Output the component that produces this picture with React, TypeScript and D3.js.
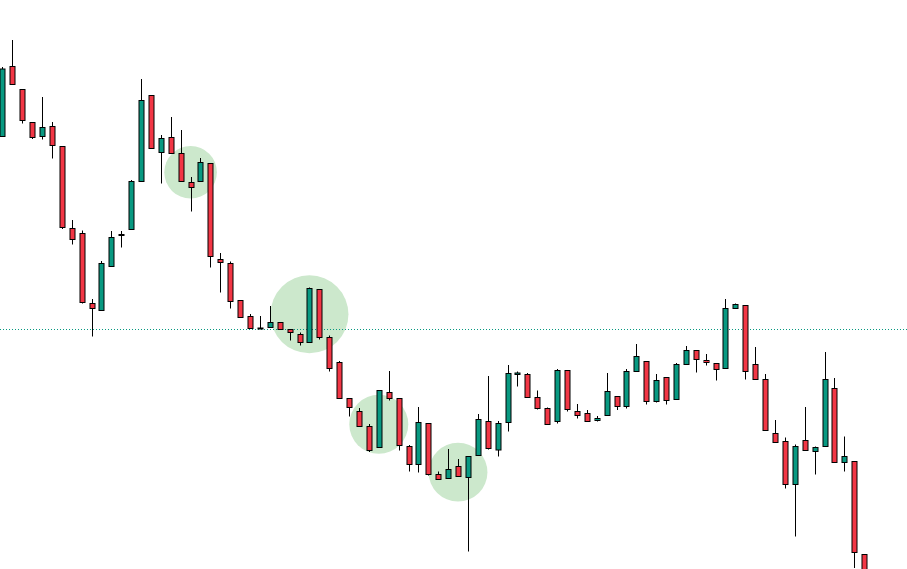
import { useEffect, useRef } from 'react';
import * as d3 from 'd3';

type Candle = { o: number; h: number; l: number; c: number };

// open, high, low, close (price units)
const opens = [
  463.5, 533.5, 510.5, 477.5, 463.5, 473.5, 453.5, 371.5, 366.5, 296.5,
  289.5, 333.5, 364.5, 370.5, 418.5, 504.5, 447.5, 462.5, 446.5, 417.5,
  418.5, 436.5, 340.5, 336.5, 299.5, 283.5, 272, 272.5, 277.5, 270.5,
  265.5, 257.5, 310.5, 262.5, 237.5, 201.5, 188.5, 173.5, 152.5, 207.5,
  201.5, 153.5, 135.5, 176.5, 125.5, 121.5, 133.5, 122.5, 144.5, 178.5,
  150, 177.5, 225.5, 225.5, 202.5, 191.5, 178.5, 229.5, 188.5, 186.5,
  179.5, 184.5, 203.5, 193.5, 228.5, 238.5, 198.5, 222.5, 200.5, 235.5,
  249.5, 239.5, 236.5, 231.5, 291.5, 294.5, 235.5, 220.5, 166.5, 158.5,
  115.5, 159.5, 148.5, 153.5, 211.5, 137.5, 138.5, 45.5,
];
const highs = [
  533, 560, 510.5, 477.5, 503, 478, 453.5, 380, 369.5, 301,
  339, 369, 369, 420, 521, 504.5, 465, 483, 470, 423,
  442, 436.5, 347, 338.5, 299.5, 286, 284, 294, 277.5, 270.5,
  267.5, 312.5, 310.5, 264.5, 239, 201.5, 192, 176, 209.5, 229,
  201.5, 155, 193, 176.5, 128.5, 151, 141, 143.5, 186, 224,
  179, 235, 228.5, 227, 209.5, 192.5, 231, 229.5, 196, 190,
  184, 227, 203.5, 231, 256, 238.5, 226, 222.5, 237, 254,
  249.5, 246, 236.5, 301, 296.5, 294.5, 253, 226, 180, 162.5,
  155.5, 193, 153.5, 248, 222, 163.5, 138.5, 45.5,
];
const lows = [
  463, 515.5, 476.5, 461, 460.5, 441.5, 371, 355.5, 296.5, 263.5,
  289.5, 333.5, 352.5, 370.5, 418.5, 451.5, 416.5, 446.5, 418.5, 388.5,
  418.5, 332.5, 307.5, 291.5, 282.5, 271.5, 271.5, 272.5, 270.5, 259.5,
  254.5, 257.5, 260.5, 228.5, 201.5, 183.5, 173.5, 148, 152.5, 199.5,
  149.5, 128.5, 127.5, 124.5, 120.5, 121.5, 123.5, 48.5, 144.5, 150.5,
  143.5, 168.5, 213.5, 202.5, 190.5, 175.5, 176.5, 188.5, 181.5, 178.5,
  178.5, 184.5, 190, 191.5, 228.5, 195.5, 197.5, 195.5, 200.5, 235.5,
  227.5, 234.5, 219.5, 231.5, 291.5, 220.5, 220.5, 169.5, 157.5, 111.5,
  63.5, 149.5, 125.5, 153.5, 137.5, 128.5, 32, 5,
];
const closes = [
  531, 515.5, 479.5, 462.5, 472.5, 454.5, 372.5, 360.5, 297.5, 291.5,
  336.5, 362.5, 365.5, 418.5, 499.5, 451.5, 461.5, 446.5, 418.5, 412.5,
  437.5, 343.5, 337.5, 298.5, 282.5, 271.5, 271.5, 277.5, 270.5, 267.5,
  257.5, 311.5, 262.5, 231.5, 201.5, 192.5, 173.5, 149.5, 209.5, 201.5,
  154.5, 135.5, 177.5, 125.5, 120.5, 130.5, 123.5, 143.5, 180.5, 151.5,
  176.5, 226.5, 227, 202.5, 191.5, 175.5, 229.5, 190.5, 184.5, 178.5,
  181.5, 208.5, 193.5, 228.5, 243.5, 198.5, 219.5, 199.5, 235.5, 249.5,
  240.5, 237.5, 230.5, 291.5, 295.5, 228.5, 220.5, 169.5, 157.5, 115.5,
  153.5, 149.5, 152.5, 220.5, 137.5, 143.5, 47.5, 10,
];

// highlighted zones: candle index, price centre, radius in price units
const zoneIndex = [19, 31, 38, 46];
const zonePrice = [427.7, 285.7, 175.7, 127.8];
const zoneRadius = [26.3, 39, 29.5, 29.4];

const levelPrice = 270.7;

const UP = '#089981';
const DOWN = '#f23645';

export default function App() {
  const ref = useRef<SVGSVGElement>(null);

  useEffect(() => {
    document.body.style.margin = '0';
    if (!ref.current) return;
    const width = 907;
    const height = 569;
    const svg = d3.select(ref.current);
    svg.selectAll('*').remove();

    const data: Candle[] = opens.map((o, i) => ({ o, h: highs[i], l: lows[i], c: closes[i] }));

    const x = d3.scaleLinear().domain([0, data.length - 1]).range([2.4, 2.4 + 9.905 * (data.length - 1)]);
    const y = d3.scaleLinear().domain([31, 600]).range([height, 0]);
    const pxPerUnit = Math.abs(y(1) - y(0));

    svg.append('rect').attr('width', width).attr('height', height).attr('fill', '#ffffff');

    svg
      .append('g')
      .selectAll('circle')
      .data(zoneIndex)
      .join('circle')
      .attr('cx', (d) => x(d))
      .attr('cy', (_, i) => y(zonePrice[i]))
      .attr('r', (_, i) => zoneRadius[i] * pxPerUnit)
      .attr('fill', '#cce8cc');

    svg
      .append('line')
      .attr('x1', 0)
      .attr('x2', width)
      .attr('y1', Math.round(y(levelPrice)) + 0.5)
      .attr('y2', Math.round(y(levelPrice)) + 0.5)
      .attr('stroke', UP)
      .attr('stroke-width', 1)
      .attr('stroke-dasharray', '1 2');

    const g = svg.append('g');
    const candles = g.selectAll('g').data(data).join('g');

    candles
      .append('line')
      .attr('x1', (_, i) => Math.round(x(i)) + 0.5)
      .attr('x2', (_, i) => Math.round(x(i)) + 0.5)
      .attr('y1', (d) => y(d.h))
      .attr('y2', (d) => y(d.l))
      .attr('stroke', '#000')
      .attr('stroke-width', 1);

    candles
      .append('rect')
      .attr('x', (_, i) => Math.round(x(i)) - 2)
      .attr('width', 5)
      .attr('y', (d) => y(Math.max(d.o, d.c)))
      .attr('height', (d) => Math.max(1, Math.abs(y(d.o) - y(d.c))))
      .attr('fill', (d) => (d.c >= d.o ? UP : DOWN))
      .attr('stroke', '#000')
      .attr('stroke-width', 1);
  }, []);

  return <svg ref={ref} width={907} height={569} style={{ display: 'block' }} />;
}
